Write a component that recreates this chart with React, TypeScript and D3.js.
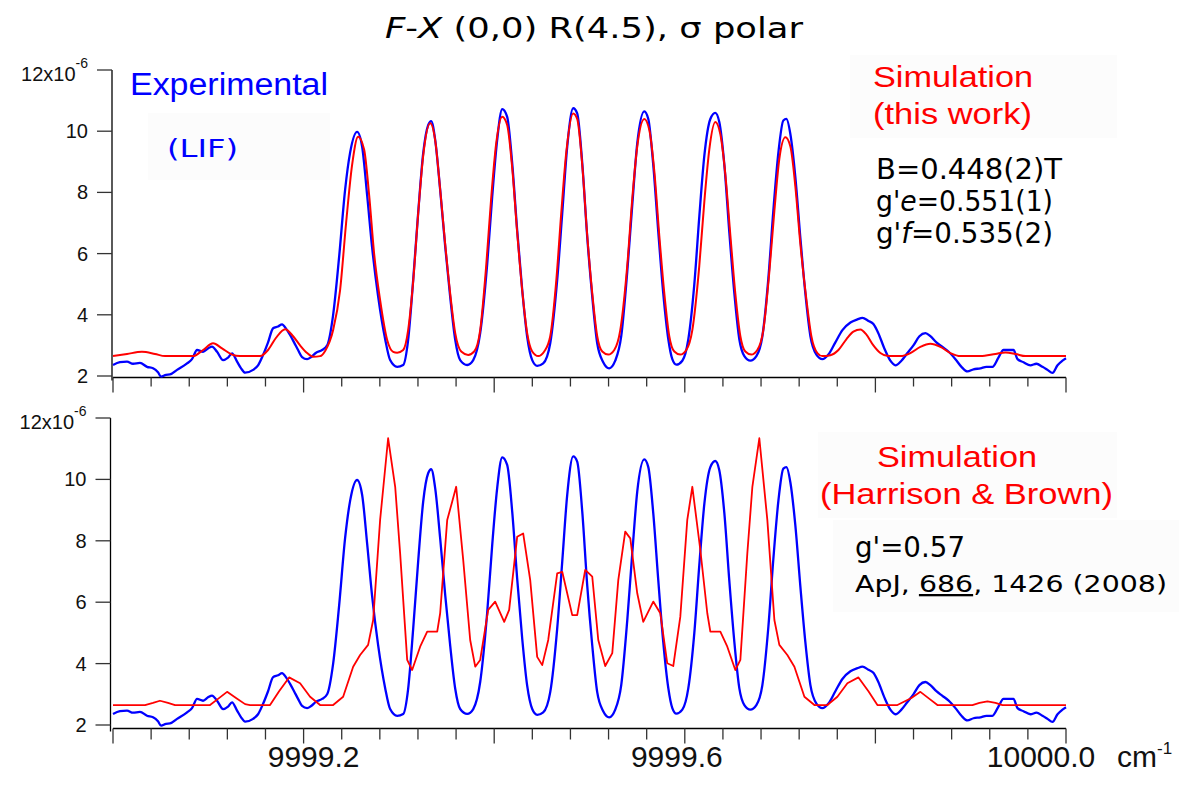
import React from 'react';
import * as d3 from 'd3';

// ---------- data (intensities in units of 1e-6, wavenumbers in cm-1) ----------
const expWavenumber = [
  9999.0000, 9999.0073, 9999.0147, 9999.0210, 9999.0283, 9999.0357, 9999.0420, 9999.0472, 9999.0504, 9999.0556,
  9999.0598, 9999.0672, 9999.0777, 9999.0829, 9999.0882, 9999.0945, 9999.0997, 9999.1039, 9999.1092, 9999.1155,
  9999.1207, 9999.1249, 9999.1302, 9999.1344, 9999.1386, 9999.1470, 9999.1522, 9999.1575, 9999.1627, 9999.1680,
  9999.1732, 9999.1774, 9999.1816, 9999.1858, 9999.1900, 9999.1942, 9999.1984, 9999.2037, 9999.2079, 9999.2131,
  9999.2194, 9999.2247, 9999.2310, 9999.2373, 9999.2436, 9999.2488, 9999.2562, 9999.2614, 9999.2667, 9999.2719,
  9999.2782, 9999.2856, 9999.2908, 9999.2982, 9999.3045, 9999.3097, 9999.3150, 9999.3202, 9999.3255, 9999.3307,
  9999.3339, 9999.3381, 9999.3433, 9999.3486, 9999.3538, 9999.3591, 9999.3643, 9999.3717, 9999.3780, 9999.3853,
  9999.3927, 9999.3979, 9999.4031, 9999.4084, 9999.4136, 9999.4189, 9999.4241, 9999.4294, 9999.4346, 9999.4399,
  9999.4451, 9999.4514, 9999.4588, 9999.4661, 9999.4714, 9999.4766, 9999.4829, 9999.4871, 9999.4924, 9999.4976,
  9999.5029, 9999.5081, 9999.5144, 9999.5207, 9999.5270, 9999.5333, 9999.5396, 9999.5449, 9999.5501, 9999.5575,
  9999.5617, 9999.5669, 9999.5722, 9999.5774, 9999.5827, 9999.5869, 9999.5911, 9999.5974, 9999.6037, 9999.6100,
  9999.6152, 9999.6205, 9999.6268, 9999.6320, 9999.6362, 9999.6415, 9999.6467, 9999.6520, 9999.6572, 9999.6625,
  9999.6688, 9999.6751, 9999.6814, 9999.6877, 9999.6929, 9999.6982, 9999.7034, 9999.7066, 9999.7108, 9999.7160,
  9999.7213, 9999.7265, 9999.7318, 9999.7381, 9999.7444, 9999.7507, 9999.7580, 9999.7654, 9999.7738, 9999.7811,
  9999.7864, 9999.7927, 9999.7979, 9999.8031, 9999.8094, 9999.8157, 9999.8210, 9999.8273, 9999.8336, 9999.8399,
  9999.8462, 9999.8525, 9999.8577, 9999.8640, 9999.8703, 9999.8766, 9999.8840, 9999.8903, 9999.8966, 9999.9029,
  9999.9102, 9999.9165, 9999.9228, 9999.9291, 9999.9344, 9999.9396, 9999.9449, 9999.9491, 9999.9554, 9999.9627,
  9999.9690, 9999.9753, 9999.9806, 9999.9858, 9999.9911, 9999.9963, 10000.0000,
];
const expIntensity = [
  2.36, 2.45, 2.47, 2.40, 2.43, 2.30, 2.25, 2.12, 1.98, 2.04,
  2.05, 2.20, 2.41, 2.55, 2.85, 2.79, 2.90, 2.96, 2.79, 2.52,
  2.60, 2.74, 2.47, 2.25, 2.11, 2.20, 2.35, 2.69, 3.10, 3.56,
  3.62, 3.69, 3.55, 3.34, 3.10, 2.85, 2.62, 2.55, 2.62, 2.76,
  2.85, 3.00, 4.00, 5.90, 8.10, 9.30, 9.98, 9.50, 7.90, 6.20,
  4.60, 3.20, 2.52, 2.30, 2.36, 3.18, 5.14, 7.32, 9.28, 10.20,
  10.33, 9.71, 8.08, 6.23, 4.59, 3.18, 2.52, 2.36, 2.52, 3.40,
  5.68, 7.86, 9.71, 10.72, 10.47, 8.95, 6.77, 4.81, 3.28, 2.52,
  2.33, 2.41, 3.07, 5.14, 7.32, 9.49, 10.75, 10.58, 8.95, 6.55,
  4.59, 3.07, 2.45, 2.25, 2.50, 3.30, 5.40, 7.60, 9.60, 10.65,
  10.40, 8.90, 6.70, 4.70, 3.20, 2.55, 2.37, 2.50, 3.20, 5.00,
  7.20, 9.20, 10.40, 10.60, 10.30, 8.90, 6.70, 4.70, 3.20, 2.65,
  2.50, 2.65, 3.30, 5.20, 7.40, 9.30, 10.35, 10.40, 9.90, 8.50,
  6.50, 4.70, 3.30, 2.70, 2.55, 2.70, 3.10, 3.50, 3.75, 3.85,
  3.90, 3.80, 3.70, 3.40, 2.90, 2.50, 2.35, 2.50, 2.75, 3.00,
  3.30, 3.40, 3.30, 3.10, 2.95, 2.80, 2.55, 2.30, 2.15, 2.22,
  2.25, 2.30, 2.30, 2.60, 2.85, 2.85, 2.85, 2.55, 2.45, 2.35,
  2.40, 2.30, 2.20, 2.10, 2.35, 2.50, 2.58,
];

// Simulation (this work)
const simWavenumber = [
  9999.0000, 9999.0147, 9999.0304, 9999.0441, 9999.0546, 9999.0840, 9999.0945, 9999.1050, 9999.1144, 9999.1249,
  9999.1333, 9999.1543, 9999.1627, 9999.1711, 9999.1806, 9999.1890, 9999.1963, 9999.2037, 9999.2100, 9999.2173,
  9999.2226, 9999.2310, 9999.2383, 9999.2446, 9999.2509, 9999.2572, 9999.2635, 9999.2688, 9999.2740, 9999.2803,
  9999.2877, 9999.2940, 9999.2982, 9999.3045, 9999.3097, 9999.3150, 9999.3202, 9999.3255, 9999.3328, 9999.3381,
  9999.3433, 9999.3486, 9999.3538, 9999.3591, 9999.3654, 9999.3727, 9999.3790, 9999.3853, 9999.3916, 9999.3968,
  9999.4021, 9999.4084, 9999.4136, 9999.4189, 9999.4241, 9999.4294, 9999.4346, 9999.4399, 9999.4462, 9999.4525,
  9999.4588, 9999.4651, 9999.4703, 9999.4756, 9999.4829, 9999.4871, 9999.4924, 9999.4976, 9999.5029, 9999.5081,
  9999.5134, 9999.5197, 9999.5260, 9999.5323, 9999.5396, 9999.5449, 9999.5501, 9999.5575, 9999.5627, 9999.5680,
  9999.5732, 9999.5785, 9999.5837, 9999.5890, 9999.5953, 9999.6016, 9999.6079, 9999.6152, 9999.6205, 9999.6257,
  9999.6320, 9999.6373, 9999.6425, 9999.6478, 9999.6530, 9999.6583, 9999.6635, 9999.6698, 9999.6761, 9999.6824,
  9999.6887, 9999.6940, 9999.6992, 9999.7055, 9999.7108, 9999.7160, 9999.7213, 9999.7276, 9999.7328, 9999.7391,
  9999.7444, 9999.7528, 9999.7612, 9999.7695, 9999.7769, 9999.7843, 9999.7906, 9999.7979, 9999.8052, 9999.8136,
  9999.8262, 9999.8367, 9999.8472, 9999.8577, 9999.8682, 9999.8787, 9999.8892, 9999.9102, 9999.9260, 9999.9365,
  9999.9470, 9999.9575, 10000.0000,
];
const simIntensity = [
  2.65, 2.72, 2.79, 2.72, 2.65, 2.65, 2.85, 3.07, 2.90, 2.70,
  2.65, 2.65, 2.85, 3.25, 3.53, 3.30, 3.00, 2.75, 2.63, 2.65,
  2.82, 3.50, 4.81, 7.00, 8.90, 9.82, 9.40, 7.90, 6.00, 4.48,
  3.18, 2.79, 2.76, 2.85, 3.50, 5.10, 7.30, 9.20, 10.26, 9.70,
  8.10, 6.30, 4.70, 3.40, 2.80, 2.69, 2.80, 3.50, 5.60, 7.80,
  9.60, 10.47, 10.20, 8.80, 6.70, 4.80, 3.40, 2.80, 2.65, 2.80,
  3.30, 5.10, 7.30, 9.30, 10.58, 10.40, 8.90, 6.60, 4.70, 3.30,
  2.80, 2.70, 2.85, 3.50, 5.60, 7.80, 9.50, 10.40, 10.05, 8.70,
  6.60, 4.70, 3.30, 2.80, 2.70, 2.85, 3.50, 5.60, 7.70, 9.40,
  10.30, 9.90, 8.60, 6.60, 4.70, 3.30, 2.80, 2.70, 2.85, 3.50,
  5.40, 7.40, 9.10, 9.80, 9.50, 8.20, 6.30, 4.50, 3.30, 2.75,
  2.65, 2.68, 2.85, 3.20, 3.45, 3.52, 3.35, 3.00, 2.75, 2.65,
  2.65, 2.75, 2.95, 3.05, 2.95, 2.75, 2.65, 2.65, 2.72, 2.77,
  2.72, 2.65, 2.65,
];

// Simulation (Harrison & Brown)
const hbWavenumber = [
  9999.0000, 9999.0336, 9999.0420, 9999.0493, 9999.0577, 9999.0651, 9999.1018, 9999.1102, 9999.1197, 9999.1291,
  9999.1386, 9999.1438, 9999.1648, 9999.1743, 9999.1848, 9999.1963, 9999.2068, 9999.2173, 9999.2310, 9999.2415,
  9999.2520, 9999.2593, 9999.2677, 9999.2730, 9999.2803, 9999.2887, 9999.2961, 9999.3013, 9999.3087, 9999.3139,
  9999.3223, 9999.3297, 9999.3402, 9999.3433, 9999.3507, 9999.3559, 9999.3601, 9999.3675, 9999.3748, 9999.3801,
  9999.3853, 9999.3937, 9999.4010, 9999.4105, 9999.4157, 9999.4241, 9999.4304, 9999.4378, 9999.4451, 9999.4504,
  9999.4567, 9999.4661, 9999.4714, 9999.4819, 9999.4871, 9999.4955, 9999.5029, 9999.5092, 9999.5165, 9999.5239,
  9999.5302, 9999.5375, 9999.5428, 9999.5501, 9999.5564, 9999.5669, 9999.5743, 9999.5816, 9999.5879, 9999.5953,
  9999.6026, 9999.6079, 9999.6163, 9999.6236, 9999.6268, 9999.6373, 9999.6446, 9999.6530, 9999.6583, 9999.6656,
  9999.6709, 9999.6782, 9999.6866, 9999.6940, 9999.6992, 9999.7076, 9999.7150, 9999.7255, 9999.7360, 9999.7496,
  9999.7601, 9999.7706, 9999.7822, 9999.7927, 9999.8021, 9999.8231, 9999.8378, 9999.8472, 9999.8567, 9999.8651,
  9999.9018, 9999.9092, 9999.9176, 9999.9260, 9999.9333, 10000.0000,
];
const hbIntensity = [
  2.65, 2.65, 2.72, 2.79, 2.72, 2.65, 2.65, 2.85, 3.08, 2.88,
  2.68, 2.65, 2.65, 3.10, 3.55, 3.36, 2.92, 2.65, 2.65, 2.92,
  3.90, 4.28, 4.61, 5.42, 8.68, 11.34, 9.76, 7.59, 4.12, 3.79,
  4.55, 5.04, 5.04, 5.64, 8.68, 9.27, 9.76, 7.37, 4.77, 3.90,
  4.12, 5.75, 6.02, 5.36, 5.75, 8.13, 8.24, 6.72, 4.22, 3.95,
  4.77, 6.94, 6.99, 5.58, 5.58, 7.05, 6.83, 4.77, 3.92, 4.34,
  6.72, 8.30, 8.08, 6.29, 5.36, 6.02, 5.64, 4.01, 3.92, 5.53,
  8.68, 9.76, 7.70, 5.64, 5.04, 5.04, 4.55, 3.79, 4.12, 7.59,
  9.76, 11.34, 8.68, 5.42, 4.61, 4.28, 3.90, 2.92, 2.65, 2.65,
  2.92, 3.36, 3.55, 3.10, 2.65, 2.65, 2.88, 3.08, 2.85, 2.65,
  2.65, 2.72, 2.77, 2.72, 2.65, 2.65,
];

const yTickValues = [2, 4, 6, 8, 10, 12];
const yTickLabels = ['2', '4', '6', '8', '10', '12'];
const xMajorValues = [9999.2, 9999.6, 10000.0];
const xMajorLabels = ['9999.2', '9999.6', '10000.0'];
const xTickStep = 0.04;

// ---------- layout ----------
const W = 1179;
const H = 790;
const ARIAL = '"Liberation Sans", Arial, sans-serif';
const COMIC = '"DejaVu Sans", sans-serif';
const BLUE = '#0000ff';
const RED = '#ff0000';
const BOX = '#fcfcfc';
const X_LABEL_SHIFT = [10, -8, -25];

const xScale = d3.scaleLinear().domain([9999.0, 10000.0]).range([113, 1066]);
const xTicks = d3.range(0, 26).map((i) => 9999.0 + i * xTickStep);

type PanelProps = {
  yScale: d3.ScaleLinear<number, number>;
  axisX: number;
  axisY: number;
  minorLen: number;
  majorLen: number;
  simWn: number[];
  simI: number[];
  simCurve: d3.CurveFactory;
  simWidth: number;
};

function Panel({ yScale, axisX, axisY, minorLen, majorLen, simWn, simI, simCurve, simWidth }: PanelProps) {
  const expLine = d3
    .line<number>()
    .x((_, i) => xScale(expWavenumber[i]))
    .y((d) => yScale(d))
    .curve(d3.curveMonotoneX);
  const simLine = d3
    .line<number>()
    .x((_, i) => xScale(simWn[i]))
    .y((d) => yScale(d))
    .curve(simCurve);
  const yTop = yScale(12);
  return (
    <g>
      {/* y axis */}
      <line x1={axisX} x2={axisX} y1={yTop} y2={axisY + 3} stroke="#000" strokeWidth={1.3} />
      {yTickValues.map((v, i) => {
        const y = yScale(v);
        const isTop = v === 12;
        return (
          <g key={v}>
            <line x1={axisX - 15} x2={axisX} y1={y} y2={y} stroke="#333" strokeWidth={1.3} />
            <text
              x={axisX - 24}
              y={y + (isTop ? 11 : 7)}
              textAnchor="end"
              fontFamily={ARIAL}
              fontSize={20}
              fill="#111"
            >
              {yTickLabels[i]}
              {isTop ? (
                <>
                  <tspan>x10</tspan>
                  <tspan dy={-13} fontSize={14}>-6</tspan>
                </>
              ) : null}
            </text>
          </g>
        );
      })}
      {/* x axis */}
      <line x1={xScale(9999.0)} x2={xScale(10000.0)} y1={axisY} y2={axisY} stroke="#000" strokeWidth={1.3} />
      {xTicks.map((t, i) => {
        const major = i % 5 === 0;
        const x = xScale(t);
        return (
          <line
            key={i}
            x1={x}
            x2={x}
            y1={axisY}
            y2={axisY + (major ? majorLen : minorLen)}
            stroke="#333"
            strokeWidth={1.3}
          />
        );
      })}
      {/* series */}
      <path d={expLine(expIntensity) || ''} fill="none" stroke={BLUE} strokeWidth={2.3} strokeLinejoin="round" />
      <path d={simLine(simI) || ''} fill="none" stroke={RED} strokeWidth={simWidth} strokeLinejoin="round" />
    </g>
  );
}

export default function App() {
  const yTopPanel = d3.scaleLinear().domain([2, 12]).range([376, 70]);
  const yBotPanel = d3.scaleLinear().domain([2, 12]).range([725, 418]);
  return (
    <svg
      width={W}
      height={H}
      viewBox={`0 0 ${W} ${H}`}
      style={{ position: 'absolute', left: 0, top: 0, display: 'block', background: '#fff' }}
    >
      <rect x={0} y={0} width={W} height={H} fill="#fff" />

      {/* faint text-box backgrounds */}
      <rect x={148} y={113} width={182} height={67} fill={BOX} />
      <rect x={850} y={55} width={267} height={83} fill={BOX} />
      <rect x={818} y={432} width={299} height={86} fill={BOX} />
      <rect x={833} y={520} width={346} height={92} fill={BOX} />

      {/* title */}
      <text x={385} y={38} fontFamily={COMIC} fontSize={29} fill="#000" textLength={418} lengthAdjust="spacingAndGlyphs">
        <tspan fontStyle="italic">F</tspan>-<tspan fontStyle="italic">X</tspan> (0,0) R(4.5), σ polar
      </text>

      <Panel
        yScale={yTopPanel}
        axisX={112}
        axisY={377.5}
        minorLen={9}
        majorLen={15}
        simWn={simWavenumber}
        simI={simIntensity}
        simCurve={d3.curveMonotoneX}
        simWidth={2}
      />
      <Panel
        yScale={yBotPanel}
        axisX={110.5}
        axisY={728.5}
        minorLen={11}
        majorLen={15}
        simWn={hbWavenumber}
        simI={hbIntensity}
        simCurve={d3.curveLinear}
        simWidth={1.8}
      />

      {/* x tick labels (bottom panel) */}
      {xMajorValues.map((v, i) => (
        <text
          key={v}
          x={xScale(v) + X_LABEL_SHIFT[i]}
          y={767}
          textAnchor="middle"
          fontFamily={ARIAL}
          fontSize={30}
          fill="#111"
        >
          {xMajorLabels[i]}
        </text>
      ))}
      <text x={1117} y={767} fontFamily={ARIAL} fontSize={30} fill="#111">
        cm<tspan dy={-13} fontSize={17}>-1</tspan>
      </text>

      {/* top panel annotations */}
      <text x={130} y={95} fontFamily={ARIAL} fontSize={31} fill={BLUE} textLength={198} lengthAdjust="spacingAndGlyphs">
        Experimental
      </text>
      <text x={167} y={157} fontFamily={COMIC} fontSize={24} fill={BLUE} textLength={71} lengthAdjust="spacingAndGlyphs">
        (LIF)
      </text>
      <text x={873} y={87} fontFamily={ARIAL} fontSize={29} fill={RED} textLength={160} lengthAdjust="spacingAndGlyphs">
        Simulation
      </text>
      <text x={873} y={124} fontFamily={ARIAL} fontSize={29} fill={RED} textLength={159} lengthAdjust="spacingAndGlyphs">
        (this work)
      </text>
      <text x={876} y={179} fontFamily={COMIC} fontSize={28} fill="#000" textLength={186} lengthAdjust="spacingAndGlyphs">
        B=0.448(2)T
      </text>
      <text x={876} y={211} fontFamily={COMIC} fontSize={28} fill="#000" textLength={177} lengthAdjust="spacingAndGlyphs">
        g'<tspan fontStyle="italic">e</tspan>=0.551(1)
      </text>
      <text x={876} y={243} fontFamily={COMIC} fontSize={28} fill="#000" textLength={177} lengthAdjust="spacingAndGlyphs">
        g'<tspan fontStyle="italic">f</tspan>=0.535(2)
      </text>

      {/* bottom panel annotations */}
      <text x={877} y={467} fontFamily={ARIAL} fontSize={29} fill={RED} textLength={160} lengthAdjust="spacingAndGlyphs">
        Simulation
      </text>
      <text x={820} y={504} fontFamily={ARIAL} fontSize={29} fill={RED} textLength={293} lengthAdjust="spacingAndGlyphs">
        (Harrison &amp; Brown)
      </text>
      <text x={855} y={557} fontFamily={COMIC} fontSize={28} fill="#000" textLength={110} lengthAdjust="spacingAndGlyphs">
        g'=0.57
      </text>
      <text x={855} y={592} fontFamily={COMIC} fontSize={23} fill="#000" textLength={312} lengthAdjust="spacingAndGlyphs">
        ApJ, <tspan style={{ textDecoration: 'underline' }}>686</tspan>, 1426 (2008)
      </text>
    </svg>
  );
}
